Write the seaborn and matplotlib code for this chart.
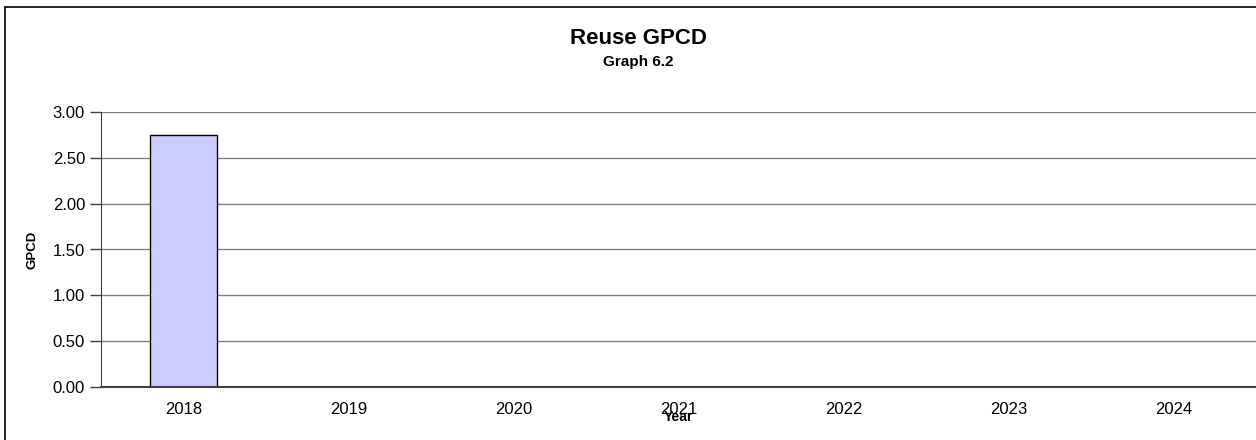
import numpy as np
import pandas as pd
import matplotlib
matplotlib.use("Agg")
import matplotlib.pyplot as plt
from matplotlib.lines import Line2D
import seaborn as sns

# data
years = ["2018", "2019", "2020", "2021", "2022", "2023", "2024"]
gpcd = [2.75, np.nan, np.nan, np.nan, np.nan, np.nan, np.nan]
y_ticks = [0.0, 0.5, 1.0, 1.5, 2.0, 2.5, 3.0]

df = pd.DataFrame({"Year": years, "GPCD": gpcd})

sns.set_style("white", {"text.color": "black", "axes.labelcolor": "black",
                        "xtick.color": "black", "ytick.color": "black"})
plt.rcParams["font.family"] = ["Liberation Sans", "DejaVu Sans"]

W, H = 1256, 440
fig = plt.figure(figsize=(W / 100, H / 100), dpi=100)
ax = fig.add_axes([101 / W, 53 / H, 1 - 101 / W, 275 / H])

sns.barplot(data=df, x="Year", y="GPCD", order=years, color="#CCCCFF",
            edgecolor="black", linewidth=1, width=0.41, saturation=1, ax=ax)

ax.set_xlim(-0.5, len(years) - 0.5)
ax.set_ylim(0, 3)
ax.set_yticks(y_ticks)
ax.set_yticklabels(["%.2f" % v for v in y_ticks], fontsize=12)
ax.yaxis.grid(True, color="#808080", linewidth=1)
ax.set_axisbelow(True)

# ticks between categories, labels in the middle
ax.set_xticks(range(len(years)))
ax.set_xticklabels(years, fontsize=12)
ax.set_xticks(np.arange(-0.5, len(years) - 0.5, 1.0), minor=True)
ax.tick_params(axis="x", which="major", length=0, pad=10.5)
ax.tick_params(axis="x", which="minor", length=3.5, width=1, color="#404040", direction="out")
ax.tick_params(axis="y", length=8, width=1, color="#404040", direction="out", pad=3.5, left=True)

for s in ["top", "right"]:
    ax.spines[s].set_visible(False)
ax.spines["left"].set_color("#404040")
ax.spines["bottom"].set_color("#404040")
ax.spines["bottom"].set_linewidth(1.5)

ax.set_xlabel("Year", fontsize=10, fontweight="bold")
ax.xaxis.set_label_coords(0.5, -(410 - 387) / 275)
ax.set_ylabel("GPCD", fontsize=9.5, fontweight="bold")
ax.yaxis.set_label_coords((38 - 101) / 1155, 0.5)

fig.text(638 / W, 1 - 44 / H, "Reuse GPCD", ha="center", va="baseline",
         fontsize=16, fontweight="bold")
fig.text(638 / W, 1 - 66 / H, "Graph 6.2", ha="center", va="baseline",
         fontsize=11, fontweight="bold")

# outer chart border (top and left visible)
fig.add_artist(Line2D([5 / W, 1], [1 - 7 / H, 1 - 7 / H],
                      transform=fig.transFigure, color="black", linewidth=1.2))
fig.add_artist(Line2D([5 / W, 5 / W], [0, 1 - 7 / H],
                      transform=fig.transFigure, color="black", linewidth=1.2))

fig.savefig("out.png", dpi=100)
